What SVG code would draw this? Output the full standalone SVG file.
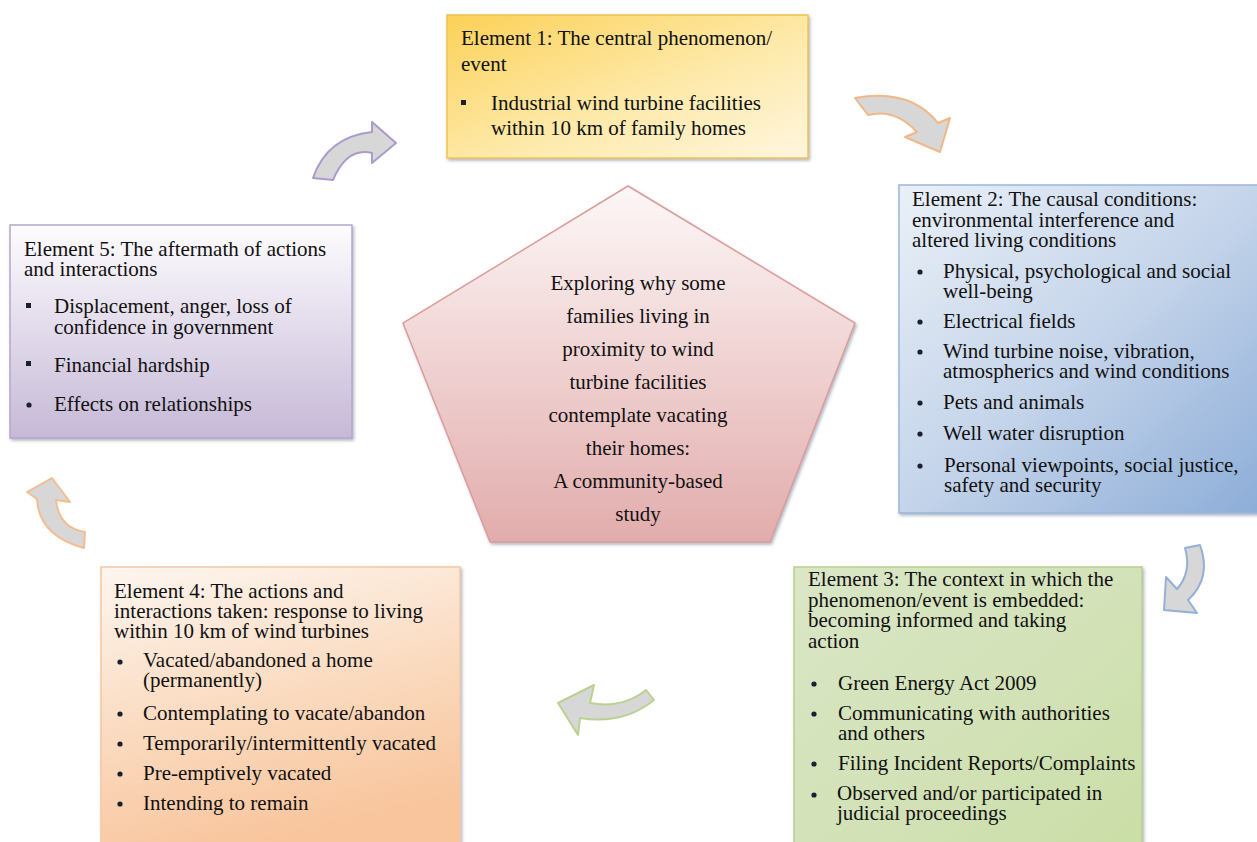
<svg xmlns="http://www.w3.org/2000/svg" width="1257" height="842" viewBox="0 0 1257 842">
<defs>
<style>
text{font-family:"Liberation Serif","Times New Roman",serif;font-size:21px;fill:#111}
.c{text-anchor:middle}
.sq{fill:#1a1f33}
.dot{fill:#1a1f33}
.arr{fill:#d7d7d7;stroke-width:2;stroke-linejoin:round}
</style>
<linearGradient id="g1" x1="0" y1="0" x2="1" y2="1">
<stop offset="0" stop-color="#fcd158"/><stop offset="0.55" stop-color="#fde9a8"/><stop offset="1" stop-color="#fff6df"/>
</linearGradient>
<linearGradient id="g2" x1="0" y1="0" x2="1" y2="1">
<stop offset="0" stop-color="#eaf0f7"/><stop offset="0.5" stop-color="#c4d4ea"/><stop offset="1" stop-color="#8bacd7"/>
</linearGradient>
<linearGradient id="g3" x1="0" y1="0" x2="1" y2="1">
<stop offset="0" stop-color="#dae6c6"/><stop offset="0.5" stop-color="#d3e2b8"/><stop offset="1" stop-color="#cadea6"/>
</linearGradient>
<linearGradient id="g4" x1="0" y1="0" x2="0.3" y2="1">
<stop offset="0" stop-color="#fdf6f0"/><stop offset="0.6" stop-color="#fad8bb"/><stop offset="1" stop-color="#f8c59d"/>
</linearGradient>
<linearGradient id="g5" x1="0" y1="0" x2="0" y2="1">
<stop offset="0" stop-color="#fdfcfe"/><stop offset="1" stop-color="#c6b9d7"/>
</linearGradient>
<linearGradient id="gp" x1="0" y1="0" x2="0" y2="1">
<stop offset="0" stop-color="#fdf7f7"/><stop offset="1" stop-color="#e2acac"/>
</linearGradient>
<filter id="sh" x="-5%" y="-5%" width="112%" height="115%">
<feDropShadow dx="1.5" dy="2" stdDeviation="1.5" flood-color="#6f7f95" flood-opacity="0.55"/>
</filter>
<filter id="ash" x="-20%" y="-20%" width="140%" height="140%">
<feGaussianBlur stdDeviation="0.5"/>
</filter>
</defs>
<rect width="1257" height="842" fill="#ffffff"/>

<g id="connectors">
<path class="arr" stroke="#f1b787" d="M855,98 Q910,88 938,123 L950,118 L940,152 L905,137 L917,132 Q895,108 868,115 Z"/>
<path class="arr" stroke="#94afd8" d="M1185,548 L1200,545 Q1212,578 1188,600 L1197,613 L1164,610 L1166,577 L1177,589 Q1192,572 1185,548 Z"/>
<path class="arr" stroke="#b9d291" d="M646,690 L654,700 Q623,725 580,718 L578,735 L558,703 L594,685 L590,703 Q622,709 646,690 Z"/>
<path class="arr" stroke="#f3bd90" d="M85,532 L84,548 Q39,536 37,499 L27,492 L52,478 L70,502 L56,500 Q59,528 85,532 Z"/>
<path class="arr" stroke="#ab9bcc" d="M313,178 Q327,137 372,132 L372,122 L396,143 L372,163 L372,153 Q347,147 333,180 Z"/>
</g>

<g id="center">
<polygon points="628,186 855,323 770,542 490,542 403,323" fill="url(#gp)" stroke="#dc9c9c" stroke-width="1.5" filter="url(#sh)"/>
<text class="c" x="638" y="290">Exploring why some</text>
<text class="c" x="638" y="323">families living in</text>
<text class="c" x="638" y="356">proximity to wind</text>
<text class="c" x="638" y="389">turbine facilities</text>
<text class="c" x="638" y="422">contemplate vacating</text>
<text class="c" x="638" y="455">their homes:</text>
<text class="c" x="638" y="488">A community-based</text>
<text class="c" x="638" y="521">study</text>
</g>

<g id="element1">
<rect x="447" y="15" width="361" height="143" fill="url(#g1)" stroke="#f2c24e" stroke-width="1.5" filter="url(#sh)"/>
<text x="461" y="45">Element 1: The central phenomenon/</text>
<text x="461" y="71">event</text>
<rect class="sq" x="461" y="100" width="5" height="5"/>
<text x="491" y="110">Industrial wind turbine facilities</text>
<text x="491" y="135">within 10 km of family homes</text>
</g>

<g id="element2">
<rect x="899" y="185" width="370" height="328" fill="url(#g2)" stroke="#9db7da" stroke-width="1.5" filter="url(#sh)"/>
<text x="912" y="206">Element 2: The causal conditions:</text>
<text x="912" y="227">environmental interference and</text>
<text x="912" y="247">altered living conditions</text>
<circle class="dot" cx="920" cy="272" r="2.6"/>
<text x="943" y="278">Physical, psychological and social</text>
<text x="943" y="298">well-being</text>
<circle class="dot" cx="920" cy="322" r="2.6"/>
<text x="943" y="328">Electrical fields</text>
<circle class="dot" cx="920" cy="352" r="2.6"/>
<text x="943" y="358">Wind turbine noise, vibration,</text>
<text x="943" y="378">atmospherics and wind conditions</text>
<circle class="dot" cx="920" cy="403" r="2.6"/>
<text x="943" y="409">Pets and animals</text>
<circle class="dot" cx="920" cy="434" r="2.6"/>
<text x="943" y="440">Well water disruption</text>
<circle class="dot" cx="920" cy="466" r="2.6"/>
<text x="944" y="472">Personal viewpoints, social justice,</text>
<text x="944" y="492">safety and security</text>
</g>

<g id="element3">
<rect x="794" y="567" width="348" height="290" fill="url(#g3)" stroke="#b9d08f" stroke-width="1.5" filter="url(#sh)"/>
<text x="808" y="586">Element 3: The context in which the</text>
<text x="808" y="607">phenomenon/event is embedded:</text>
<text x="808" y="627">becoming informed and taking</text>
<text x="808" y="648">action</text>
<circle class="dot" cx="814" cy="684" r="2.6"/>
<text x="838" y="690">Green Energy Act 2009</text>
<circle class="dot" cx="814" cy="714" r="2.6"/>
<text x="838" y="720">Communicating with authorities</text>
<text x="838" y="740">and others</text>
<circle class="dot" cx="814" cy="764" r="2.6"/>
<text x="838" y="770">Filing Incident Reports/Complaints</text>
<circle class="dot" cx="814" cy="795" r="2.6"/>
<text x="837" y="800">Observed and/or participated in</text>
<text x="837" y="820">judicial proceedings</text>
</g>

<g id="element4">
<rect x="101" y="567" width="359" height="290" fill="url(#g4)" stroke="#f6c8a0" stroke-width="1.5" filter="url(#sh)"/>
<text x="114" y="598">Element 4: The actions and</text>
<text x="114" y="618">interactions taken: response to living</text>
<text x="114" y="638">within 10 km of wind turbines</text>
<circle class="dot" cx="120" cy="662" r="2.6"/>
<text x="143" y="667">Vacated/abandoned a home</text>
<text x="143" y="687">(permanently)</text>
<circle class="dot" cx="120" cy="714" r="2.6"/>
<text x="143" y="720">Contemplating to vacate/abandon</text>
<circle class="dot" cx="120" cy="744" r="2.6"/>
<text x="143" y="750">Temporarily/intermittently vacated</text>
<circle class="dot" cx="120" cy="774" r="2.6"/>
<text x="143" y="780">Pre-emptively vacated</text>
<circle class="dot" cx="120" cy="804" r="2.6"/>
<text x="143" y="810">Intending to remain</text>
</g>

<g id="element5">
<rect x="10" y="225" width="342" height="213" fill="url(#g5)" stroke="#b6a6cb" stroke-width="1.5" filter="url(#sh)"/>
<text x="24" y="256">Element 5: The aftermath of actions</text>
<text x="24" y="276">and interactions</text>
<rect class="sq" x="26" y="303" width="5" height="5"/>
<text x="54" y="313">Displacement, anger, loss of</text>
<text x="54" y="334">confidence in government</text>
<rect class="sq" x="26" y="361" width="5" height="5"/>
<text x="54" y="372">Financial hardship</text>
<circle class="dot" cx="29" cy="405" r="2.6"/>
<text x="54" y="411">Effects on relationships</text>
</g>
</svg>
